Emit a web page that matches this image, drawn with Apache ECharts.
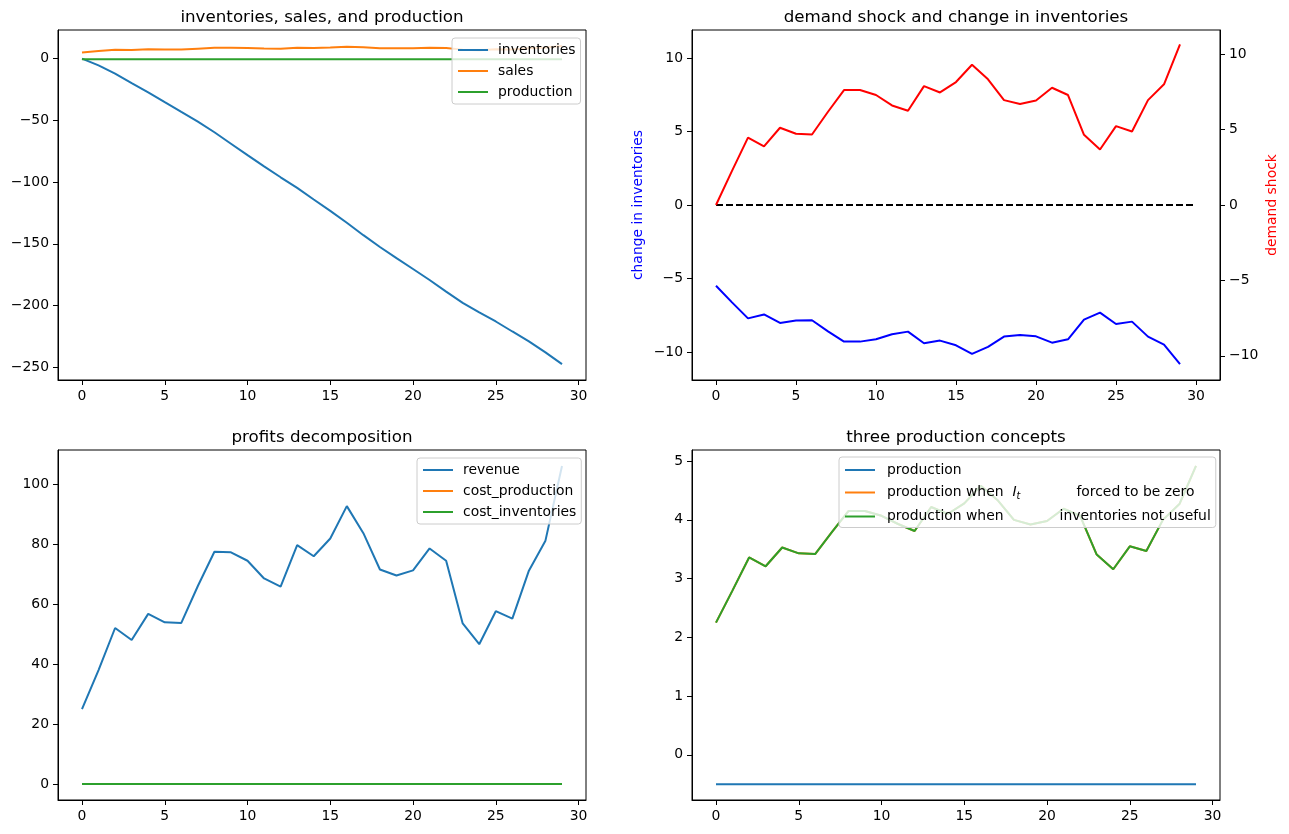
<!DOCTYPE html>
<html>
<head>
<meta charset="utf-8">
<script src="https://cdn.jsdelivr.net/npm/echarts@6/dist/echarts.min.js"></script>
<style>
html,body{margin:0;padding:0;background:#fff;}
#c{width:1289px;height:834px;}
</style>
</head>
<body>
<div id="c"></div>
<script>
// ---------- data ----------
const periods = [0,1,2,3,4,5,6,7,8,9,10,11,12,13,14,15,16,17,18,19,20,21,22,23,24,25,26,27,28,29];
const zeroLineX = [0, 30];
const zeroLineY = [0, 0];

const inventories = [0,-5.5,-12.1,-19.8,-27.3,-35.3,-43.2,-51.0,-59.6,-68.9,-78.2,-87.3,-96.1,-104.7,-114.1,-123.3,-132.9,-143.0,-152.6,-161.6,-170.4,-179.3,-188.7,-197.8,-205.6,-212.9,-221.0,-229.0,-237.9,-247.4];
const sales = [4.99,6.12,7.21,6.94,7.52,7.36,7.34,8.09,8.79,8.79,8.63,8.29,8.11,8.90,8.72,9.04,9.62,9.15,8.45,8.34,8.43,8.86,8.63,7.30,6.82,7.59,7.43,8.45,8.99,10.32];
const production = [-0.5,-0.5,-0.5,-0.5,-0.5,-0.5,-0.5,-0.5,-0.5,-0.5,-0.5,-0.5,-0.5,-0.5,-0.5,-0.5,-0.5,-0.5,-0.5,-0.5,-0.5,-0.5,-0.5,-0.5,-0.5,-0.5,-0.5,-0.5,-0.5,-0.5];

const demandShock = [0,2.26,4.47,3.88,5.12,4.72,4.67,6.18,7.62,7.62,7.29,6.60,6.25,7.88,7.46,8.15,9.30,8.33,6.95,6.69,6.93,7.77,7.29,4.65,3.68,5.23,4.87,6.95,8.00,10.65];
const invChange = [-5.49,-6.62,-7.71,-7.44,-8.02,-7.86,-7.84,-8.59,-9.29,-9.29,-9.13,-8.79,-8.61,-9.40,-9.22,-9.54,-10.12,-9.65,-8.95,-8.84,-8.93,-9.36,-9.13,-7.80,-7.32,-8.09,-7.93,-8.95,-9.49,-10.82];

const revenue = [25.0,38.0,52.0,48.0,56.7,53.9,53.7,66.0,77.4,77.2,74.4,68.5,65.8,79.6,75.9,81.8,92.6,83.6,71.5,69.5,71.2,78.5,74.4,53.5,46.6,57.6,55.1,71.1,81.1,106.0];
const costProduction = [0,0,0,0,0,0,0,0,0,0,0,0,0,0,0,0,0,0,0,0,0,0,0,0,0,0,0,0,0,0];
const costInventories = [0,0,0,0,0,0,0,0,0,0,0,0,0,0,0,0,0,0,0,0,0,0,0,0,0,0,0,0,0,0];

const prodZeroInv = [2.25,2.80,3.36,3.21,3.53,3.43,3.42,3.79,4.15,4.15,4.07,3.93,3.81,4.22,4.10,4.28,4.58,4.34,4.00,3.92,3.98,4.19,4.07,3.41,3.16,3.55,3.47,4.00,4.27,4.92];
const prodNoUse = [2.25,2.80,3.36,3.21,3.53,3.43,3.42,3.79,4.15,4.15,4.07,3.93,3.81,4.22,4.10,4.28,4.58,4.34,4.00,3.92,3.98,4.19,4.07,3.41,3.16,3.55,3.47,4.00,4.27,4.92];

const xTicks = [0,5,10,15,20,25,30];
const yTicks1 = [-250,-200,-150,-100,-50,0];
const yTicks2 = [-10,-5,0,5,10];
const yTicks3 = [0,20,40,60,80,100];
const yTicks4 = [0,1,2,3,4,5];

// ---------- helpers ----------
const FONT = 'DejaVu Sans';
const FS = 13.9;
const C_BLUE = '#1f77b4', C_ORANGE = '#ff7f0e', C_GREEN = '#2ca02c';
const pts = (xs, ys) => xs.map((x, i) => [x, ys[i]]);
const fmt = v => String(v).replace('-', '\u2212');

function valAxis(extra) {
  return Object.assign({
    type: 'value',
    axisLine: { show: true, onZero: false, lineStyle: { color: '#000', width: 1 } },
    axisTick: { show: true, inside: false, length: 5, lineStyle: { color: '#000', width: 1 } },
    axisLabel: { show: true, margin: 9, color: '#000', fontFamily: FONT, fontSize: FS, formatter: fmt },
    splitLine: { show: false }
  }, extra);
}
function xAx(grid, min, max) {
  const a = valAxis({ gridIndex: grid, min: min, max: max });
  a.axisTick.customValues = xTicks;
  a.axisLabel.customValues = xTicks;
  return a;
}
function yAx(grid, min, max, ticks, extra) {
  const a = valAxis(Object.assign({ gridIndex: grid, min: min, max: max }, extra || {}));
  a.axisTick.customValues = ticks;
  a.axisLabel.customValues = ticks;
  return a;
}
function line(name, xi, yi, data, color, extra) {
  return Object.assign({
    name: name, type: 'line', xAxisIndex: xi, yAxisIndex: yi,
    data: data, showSymbol: false, symbol: 'none', animation: false,
    lineStyle: { color: color, width: 2 }, itemStyle: { color: color }
  }, extra || {});
}
function legendBox(left, top, names, extra) {
  return Object.assign({
    orient: 'vertical', left: left, top: top, data: names,
    itemWidth: 30, itemHeight: 14, itemGap: 7,
    padding: [5, 5, 5, 5],
    backgroundColor: 'rgba(255,255,255,0.8)',
    borderColor: '#cccccc', borderWidth: 1, borderRadius: 3,
    selectedMode: false,
    itemStyle: { opacity: 0 },
    textStyle: { fontFamily: FONT, fontSize: FS, color: '#000', padding: [0, 0, 0, 5] }
  }, extra || {});
}
function title(text, x, y) {
  return { type: 'text', x: x, y: y, style: { text: text, fontFamily: FONT, fontSize: 16.7, fill: '#000', textAlign: 'center', textVerticalAlign: 'bottom' } };
}

const chart = echarts.init(document.getElementById('c'), null, { renderer: 'canvas' });

const legend4Labels = {
  'production ': 'production',
  'production when I_t forced to be zero': 'production when{s1| }{i|I}{sub|t}{s2| }forced to be zero',
  'production when inventories not useful': 'production when{s3| }inventories not useful'
};

const option = {
  animation: false,
  backgroundColor: '#fff',
  grid: [
    { left: 58, top: 30, width: 528, height: 350, show: true, borderColor: '#000', borderWidth: 1, containLabel: false },
    { left: 692, top: 30, width: 528, height: 350, show: true, borderColor: '#000', borderWidth: 1, containLabel: false },
    { left: 58, top: 450, width: 528, height: 350, show: true, borderColor: '#000', borderWidth: 1, containLabel: false },
    { left: 692, top: 450, width: 528, height: 350, show: true, borderColor: '#000', borderWidth: 1, containLabel: false }
  ],
  xAxis: [
    xAx(0, -1.45, 30.45),
    xAx(1, -1.5, 31.5),
    xAx(2, -1.45, 30.45),
    xAx(3, -1.45, 30.45)
  ],
  yAxis: [
    yAx(0, -260.3, 23.2, yTicks1),
    yAx(1, -11.9, 11.9, yTicks2, {
      name: 'change in inventories', nameLocation: 'middle', nameGap: 47, nameRotate: 90,
      nameTextStyle: { color: '#0000ff', fontFamily: FONT, fontSize: FS }
    }),
    yAx(1, -11.6, 11.6, yTicks2, {
      position: 'right',
      name: 'demand shock', nameLocation: 'middle', nameGap: 45, nameRotate: 90,
      nameTextStyle: { color: '#ff0000', fontFamily: FONT, fontSize: FS }
    }),
    yAx(2, -5.3, 111.3, yTicks3),
    yAx(3, -0.77, 5.19, yTicks4)
  ],
  legend: [
    legendBox(452, 38, ['inventories', 'sales', 'production']),
    legendBox(417, 458, ['revenue', 'cost_production', 'cost_inventories']),
    legendBox(839, 457, ['production ', 'production when I_t forced to be zero', 'production when inventories not useful'], {
      itemGap: 8.5,
      padding: [6, 5, 4, 5],
      formatter: name => legend4Labels[name],
      textStyle: {
        fontFamily: FONT, fontSize: FS, color: '#000', padding: [0, 0, 0, 7],
        rich: {
          s1: { width: 9, fontFamily: FONT, fontSize: FS },
          i: { fontFamily: FONT, fontSize: FS, fontStyle: 'italic' },
          sub: { fontFamily: FONT, fontSize: 9.7, fontStyle: 'italic', padding: [7, 0, 0, 0] },
          s2: { width: 56, fontFamily: FONT, fontSize: FS },
          s3: { width: 56, fontFamily: FONT, fontSize: FS }
        }
      }
    })
  ],
  graphic: [
    title('inventories, sales, and production', 322, 26),
    title('demand shock and change in inventories', 956, 26),
    title('profits decomposition', 322, 446),
    title('three production concepts', 956, 446)
  ],
  series: [
    line('inventories', 0, 0, pts(periods, inventories), C_BLUE),
    line('sales', 0, 0, pts(periods, sales), C_ORANGE),
    line('production', 0, 0, pts(periods, production), C_GREEN),

    line('zero', 1, 1, pts(zeroLineX, zeroLineY), '#000', { lineStyle: { color: '#000', width: 2, type: [7, 3] } }),
    line('change in inventories', 1, 1, pts(periods, invChange), '#0000ff'),
    line('demand shock', 1, 2, pts(periods, demandShock), '#ff0000'),

    line('revenue', 2, 3, pts(periods, revenue), C_BLUE),
    line('cost_production', 2, 3, pts(periods, costProduction), C_ORANGE),
    line('cost_inventories', 2, 3, pts(periods, costInventories), C_GREEN),

    line('production ', 3, 4, pts(periods, production), C_BLUE),
    line('production when I_t forced to be zero', 3, 4, pts(periods, prodZeroInv), C_ORANGE),
    line('production when inventories not useful', 3, 4, pts(periods, prodNoUse), C_GREEN)
  ]
};
chart.setOption(option);
</script>
</body>
</html>
